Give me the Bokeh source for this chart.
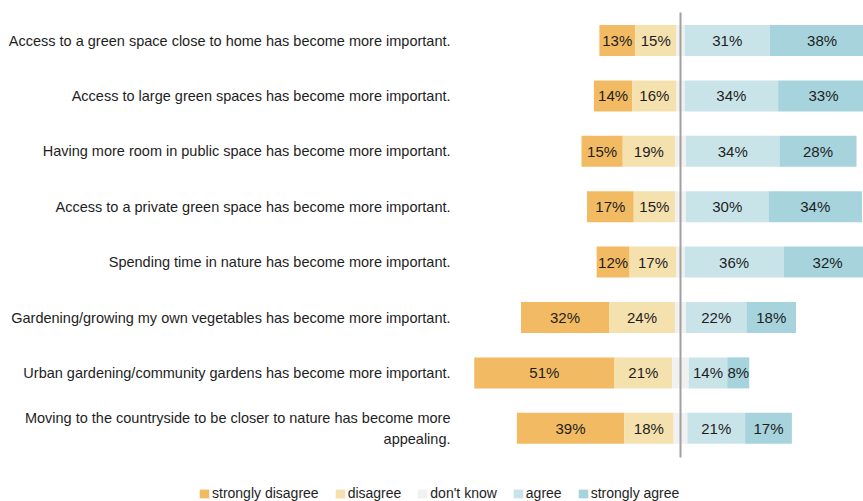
from bokeh.plotting import figure
from bokeh.models import Range1d, ColumnDataSource, Legend, LegendItem
from bokeh.core.properties import value
from bokeh.embed import file_html
from bokeh.resources import INLINE

statements = [
    "Access to a green space close to home has become more important.",
    "Access to large green spaces has become more important.",
    "Having more room in public space has become more important.",
    "Access to a private green space has become more important.",
    "Spending time in nature has become more important.",
    "Gardening/growing my own vegetables has become more important.",
    "Urban gardening/community gardens has become more important.",
    "Moving to the countryside to be closer to nature has become more\nappealing.",
]
strongly_disagree = [13, 14, 15, 17, 12, 32, 51, 39]
disagree = [15, 16, 19, 15, 17, 24, 21, 18]
dont_know = [3, 3, 4, 4, 3, 4, 6, 5]
agree = [31, 34, 34, 30, 36, 22, 14, 21]
strongly_agree = [38, 33, 28, 34, 32, 18, 8, 17]

series_names = ["strongly disagree", "disagree", "don't know", "agree", "strongly agree"]
colors = ["#F2BB63", "#F5E1AE", "#F1F1F1", "#C9E4E9", "#A6D3DC"]

FONT = "Liberation Sans"
W, H = 863, 501
PX_PER = 2.75
CENTER_PX = 680
ROW0_PX = 40
ROW_STEP = 55.4

p = figure(width=W, height=H, output_backend="svg", toolbar_location=None,
           x_range=Range1d(-CENTER_PX / PX_PER, (W - CENTER_PX) / PX_PER),
           y_range=Range1d((H - ROW0_PX) / ROW_STEP, -ROW0_PX / ROW_STEP),
           min_border=0)
p.axis.visible = False
p.grid.visible = False
p.outline_line_color = None
p.background_fill_color = "white"
p.border_fill_color = "white"

ys = list(range(len(statements)))
rows = list(zip(strongly_disagree, disagree, dont_know, agree, strongly_agree))

# compute segment extents
segs = {n: {"y": [], "left": [], "right": [], "val": []} for n in series_names}
for i, (sd, d, dk, a, sa) in enumerate(rows):
    half = dk / 2
    ext = [
        (-(half + d + sd), -(half + d), sd),
        (-(half + d), -half, d),
        (-half, half, dk),
        (half, half + a, a),
        (half + a, half + a + sa, sa),
    ]
    for n, (l, r, v) in zip(series_names, ext):
        segs[n]["y"].append(i)
        segs[n]["left"].append(l)
        segs[n]["right"].append(r)
        segs[n]["val"].append(v)

renderers = []
for n, c in zip(series_names, colors):
    s = segs[n]
    src = ColumnDataSource(dict(y=s["y"], left=s["left"], right=s["right"],
                                mid=[(l + r) / 2 for l, r in zip(s["left"], s["right"])],
                                lab=[f"{v}%" for v in s["val"]]))
    r = p.hbar(y="y", left="left", right="right", height=0.56, source=src,
               fill_color=c, line_color=None)
    renderers.append(r)
    if n != "don't know":
        p.text(x="mid", y="y", text="lab", source=src, text_align="center",
               text_baseline="middle", text_font=value(FONT),
               text_font_size="15px", text_color="#1E1E1E")

# center line
p.segment(x0=[0], x1=[0], y0=[(12 - ROW0_PX) / ROW_STEP], y1=[(457 - ROW0_PX) / ROW_STEP],
          line_color="#A0A0A0", line_width=2)

# category labels
lsrc = ColumnDataSource(dict(x=[(450 - CENTER_PX) / PX_PER] * len(statements), y=ys, t=statements))
p.text(x="x", y="y", text="t", source=lsrc, text_align="right", text_baseline="middle",
       text_font=value(FONT), text_font_size="14.5px", text_color="#1E1E1E",
       text_line_height=1.35)

legend = Legend(items=[LegendItem(label=n, renderers=[r]) for n, r in zip(series_names, renderers)],
                orientation="horizontal", location=(198, 0),
                border_line_color=None, background_fill_alpha=0,
                padding=0, margin=0, spacing=15, label_standoff=2,
                glyph_width=12, glyph_height=11, label_height=14,
                label_text_font=FONT, label_text_font_size="14px",
                label_text_color="#1E1E1E", click_policy="none")
p.add_layout(legend, "center")

open("out.html", "w").write(file_html(p, INLINE))
